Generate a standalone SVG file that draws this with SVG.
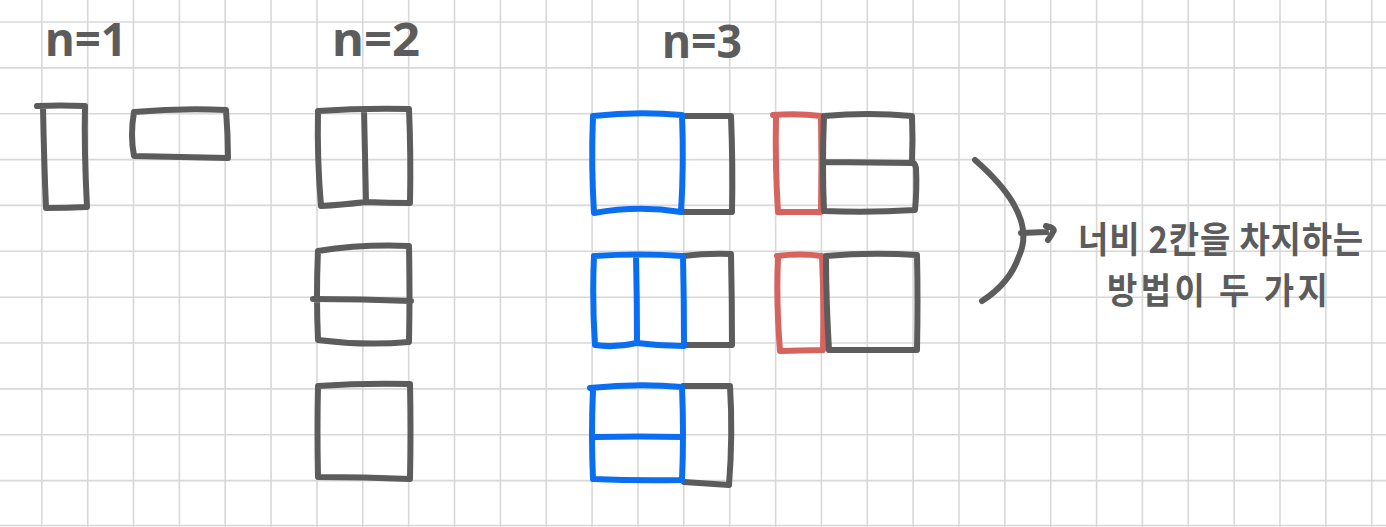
<svg xmlns="http://www.w3.org/2000/svg" width="1386" height="527" viewBox="0 0 1386 527">
<defs>
<style>
.grid line{stroke:#d8d8d8;stroke-width:1.6}
.s{fill:none;stroke-width:6;stroke-linecap:round;stroke-linejoin:round}
.g{stroke:#5c5c5c}
.b{stroke:#0b6ef0}
.r{stroke:#d6635e}
.lbl{font-family:"Noto Sans","Noto Sans CJK KR",sans-serif;font-weight:700;fill:#5c5c5c;font-size:46px}
.kr{font-family:"Noto Sans CJK KR","Noto Sans",sans-serif;font-weight:700;fill:#5c5c5c;font-size:33px}
</style>
</defs>
<rect width="1386" height="527" fill="#ffffff"/>
<g class="grid">
<line x1="41.8" y1="0" x2="41.8" y2="527"/><line x1="87.7" y1="0" x2="87.7" y2="527"/><line x1="133.5" y1="0" x2="133.5" y2="527"/><line x1="179.4" y1="0" x2="179.4" y2="527"/><line x1="225.2" y1="0" x2="225.2" y2="527"/><line x1="271.1" y1="0" x2="271.1" y2="527"/><line x1="317" y1="0" x2="317" y2="527"/><line x1="362.8" y1="0" x2="362.8" y2="527"/><line x1="408.7" y1="0" x2="408.7" y2="527"/><line x1="454.5" y1="0" x2="454.5" y2="527"/><line x1="500.4" y1="0" x2="500.4" y2="527"/><line x1="546.3" y1="0" x2="546.3" y2="527"/><line x1="592.1" y1="0" x2="592.1" y2="527"/><line x1="638" y1="0" x2="638" y2="527"/><line x1="683.8" y1="0" x2="683.8" y2="527"/><line x1="729.7" y1="0" x2="729.7" y2="527"/><line x1="775.6" y1="0" x2="775.6" y2="527"/><line x1="821.4" y1="0" x2="821.4" y2="527"/><line x1="867.3" y1="0" x2="867.3" y2="527"/><line x1="913.1" y1="0" x2="913.1" y2="527"/><line x1="959" y1="0" x2="959" y2="527"/><line x1="1004.9" y1="0" x2="1004.9" y2="527"/><line x1="1050.7" y1="0" x2="1050.7" y2="527"/><line x1="1096.6" y1="0" x2="1096.6" y2="527"/><line x1="1142.4" y1="0" x2="1142.4" y2="527"/><line x1="1188.3" y1="0" x2="1188.3" y2="527"/><line x1="1234.2" y1="0" x2="1234.2" y2="527"/><line x1="1280" y1="0" x2="1280" y2="527"/><line x1="1325.9" y1="0" x2="1325.9" y2="527"/><line x1="1371.7" y1="0" x2="1371.7" y2="527"/>
<line x1="0" y1="22" x2="1386" y2="22"/><line x1="0" y1="67.9" x2="1386" y2="67.9"/><line x1="0" y1="113.7" x2="1386" y2="113.7"/><line x1="0" y1="159.6" x2="1386" y2="159.6"/><line x1="0" y1="205.4" x2="1386" y2="205.4"/><line x1="0" y1="251.3" x2="1386" y2="251.3"/><line x1="0" y1="297.2" x2="1386" y2="297.2"/><line x1="0" y1="343" x2="1386" y2="343"/><line x1="0" y1="388.9" x2="1386" y2="388.9"/><line x1="0" y1="434.7" x2="1386" y2="434.7"/><line x1="0" y1="480.6" x2="1386" y2="480.6"/><line x1="0" y1="525.5" x2="1386" y2="525.5"/>
</g>
<g id="labels">
<text class="lbl" x="45" y="56" textLength="82" lengthAdjust="spacingAndGlyphs">n=1</text>
<text class="lbl" x="332" y="56" textLength="88" lengthAdjust="spacingAndGlyphs">n=2</text>
<text class="lbl" x="662" y="58" textLength="80" lengthAdjust="spacingAndGlyphs">n=3</text>
</g>
<g id="n1-vertical">
<path class="s g" d="M37,106 Q60,105 85,106 Q84,150 87,207 Q66,208 46,208 Q44,160 43,108"/>
</g>
<g id="n1-horizontal">
<path class="s g" d="M134,112 Q180,108 226,110 Q228,135 228,158 Q180,157 134,156 Q130,135 134,112"/>
</g>
<g id="n2-vertical-pair">
<path class="s g" d="M318,111 Q362,108 409,109 Q411,155 410,203 Q387,203 366,202 Q340,205 321,206 Q317,160 318,111 M364,109 Q365,155 366,202"/>
</g>
<g id="n2-horizontal-pair">
<path class="s g" d="M318,251 Q362,244 409,246 Q410,295 409,342 Q364,346 318,340 Q316,295 318,251 M313,299 Q362,299 411,301"/>
</g>
<g id="n2-square">
<path class="s g" d="M318,386 Q362,383 410,384 Q411,430 410,479 Q364,477 318,477 Q317,430 318,386"/>
</g>
<g id="n3-a">
<path class="s g" d="M683,116 L731,116 Q733,165 732,212 L684,212"/>
<path class="s b" d="M593,116 Q638,111 682,115 Q684,165 681,212 Q638,205 594,213 Q591,165 593,116"/>
</g>
<g id="n3-b">
<path class="s r" d="M773,115 Q798,113 821,116 Q822,165 821,212 L778,212 Q775,165 776,117"/>
<path class="s g" d="M824,116 Q868,112 912,116 Q913,140 912,162 Q915,163 916,168 Q917,190 915,210 Q868,213 824,211 Q822,165 824,116 M825,162 L912,163"/>
</g>
<g id="n3-c">
<path class="s g" d="M683,256 Q708,253 731,254 Q732,300 732,345 L684,345"/>
<path class="s b" d="M594,256 Q640,253 683,256 Q684,300 684,346 Q660,346 637,343 Q615,348 595,345 Q592,300 594,256 M636,256 Q637,300 637,343"/>
</g>
<g id="n3-d">
<path class="s r" d="M777,256 Q800,253 822,256 Q824,300 823,350 L780,351 Q776,300 778,258"/>
<path class="s g" d="M826,256 Q870,252 917,255 Q918,300 917,350 Q870,350 829,350 Q826,300 826,256"/>
</g>
<g id="n3-e">
<path class="s g" d="M683,386 L730,386 Q733,435 729,485 L684,482"/>
<path class="s b" d="M590,388 Q638,383 682,387 Q684,435 682,480 Q638,481 593,479 Q591,435 593,390 M595,437 Q640,436 683,437"/>
</g>
<g id="connectors">
<path class="s g" d="M975,160 Q1038,215 1019,256 Q1010,283 982,301"/>
<path class="s g" d="M1021,233 L1046,232 M1046,226 Q1056,228 1053,232 Q1051,236 1048,240"/>
</g>
<g id="note">
<text class="kr" transform="translate(1078,253) scale(1,1.1)" x="0" y="0" letter-spacing="0.8">너비 2칸을 차지하는</text>
<text class="kr" transform="translate(1107,304) scale(1,1.1)" x="0" y="0" letter-spacing="3.4">방법이 두 가지</text>
</g>
</svg>
